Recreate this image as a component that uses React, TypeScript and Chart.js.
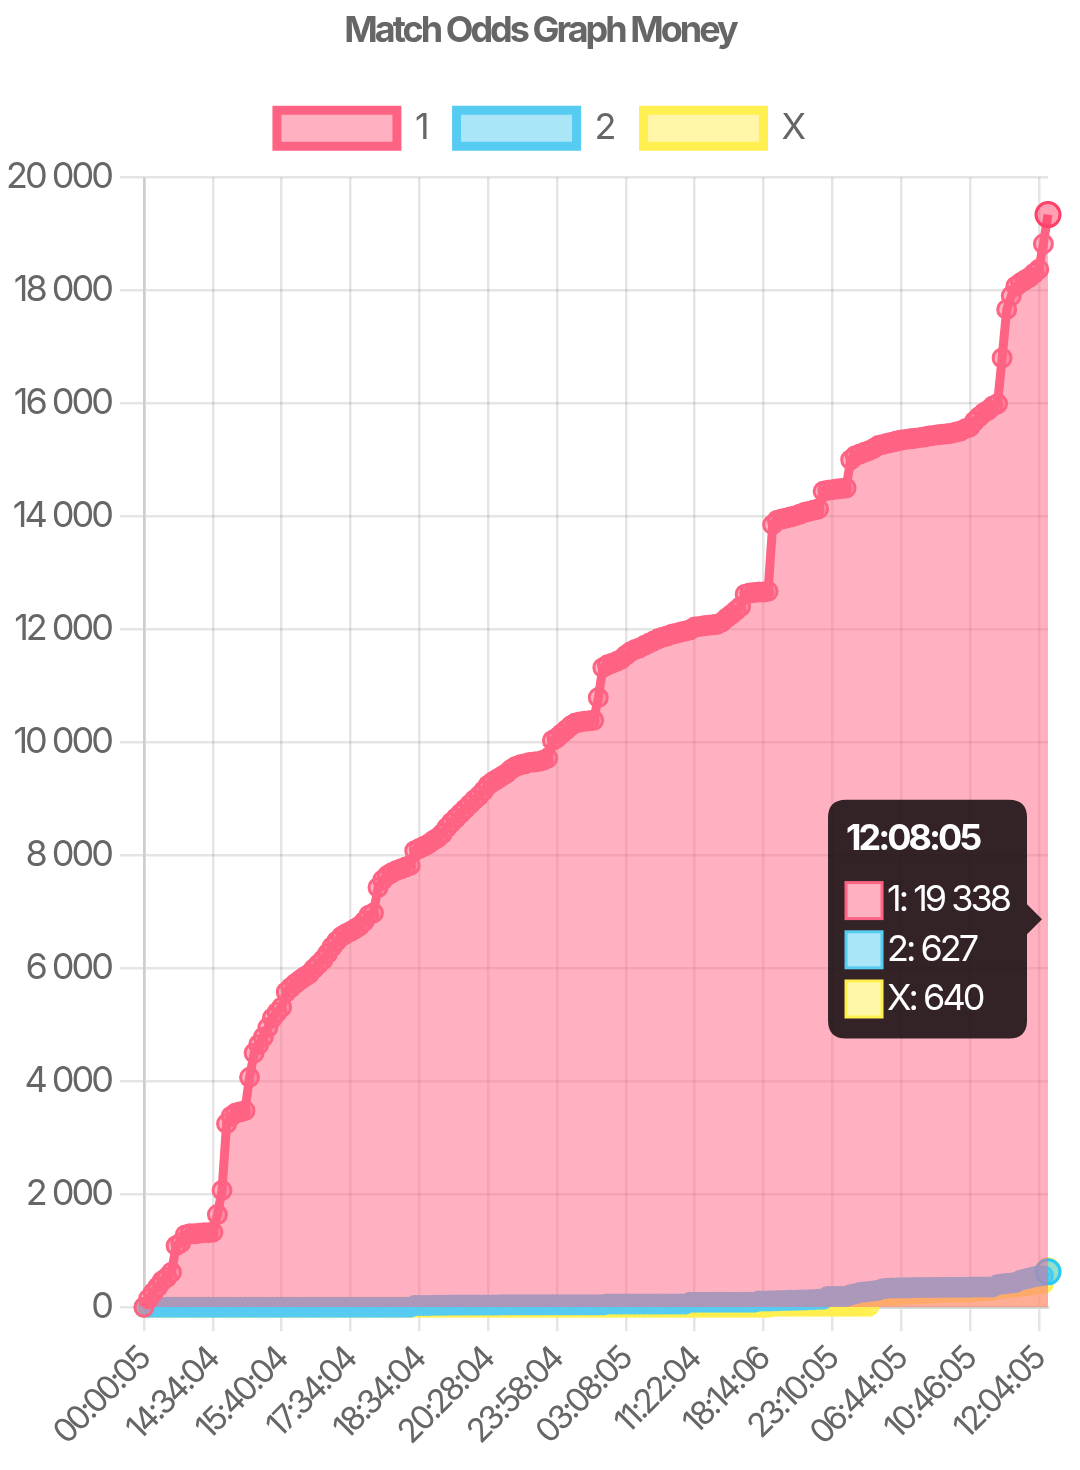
import { useEffect, useRef } from "react";
import { Chart, registerables } from "chart.js";

Chart.register(...registerables);

const TITLE = "Match Odds Graph Money";

// one label per recorded change, only every 15th one is printed on the axis
const timeLabels = [
  "00:00:05", "08:12:04", "09:30:04", "10:14:04", "10:52:04", "11:20:04", "11:46:04", "12:10:04", "12:32:04", "12:56:04", "13:18:04", "13:36:04", "13:52:04", "14:08:04", "14:22:04",
  "14:34:04", "14:38:04", "14:42:04", "14:46:04", "14:50:04", "14:56:04", "15:00:04", "15:04:04", "15:10:04", "15:14:04", "15:18:04", "15:24:04", "15:28:04", "15:32:04", "15:36:04",
  "15:40:04", "15:48:04", "15:56:04", "16:04:04", "16:12:04", "16:20:04", "16:28:04", "16:36:04", "16:44:04", "16:52:04", "17:00:04", "17:08:04", "17:16:04", "17:22:04", "17:28:04",
  "17:34:04", "17:38:04", "17:42:04", "17:46:04", "17:50:04", "17:54:04", "17:58:04", "18:02:04", "18:06:04", "18:10:04", "18:14:04", "18:18:04", "18:22:04", "18:26:04", "18:30:04",
  "18:34:04", "18:42:04", "18:50:04", "18:58:04", "19:06:04", "19:14:04", "19:22:04", "19:30:04", "19:38:04", "19:46:04", "19:54:04", "20:02:04", "20:10:04", "20:16:04", "20:22:04",
  "20:28:04", "20:42:04", "20:56:04", "21:10:04", "21:26:04", "21:40:04", "21:54:04", "22:08:04", "22:22:04", "22:36:04", "22:50:04", "23:04:04", "23:18:04", "23:32:04", "23:46:04",
  "23:58:04", "00:12:04", "00:26:04", "00:40:04", "00:54:04", "01:06:04", "01:18:04", "01:30:04", "01:42:04", "01:54:04", "02:06:04", "02:18:04", "02:32:04", "02:44:05", "02:56:05",
  "03:08:05", "03:44:05", "04:20:05", "04:56:05", "05:30:05", "06:04:05", "06:38:05", "07:12:05", "07:46:05", "08:20:04", "08:54:04", "09:28:04", "10:02:04", "10:36:04", "11:00:04",
  "11:22:04", "11:52:04", "12:20:04", "12:50:04", "13:18:04", "13:48:04", "14:16:04", "14:46:04", "15:14:04", "15:44:04", "16:12:04", "16:40:06", "17:08:06", "17:34:06", "17:54:06",
  "18:14:06", "18:34:06", "18:56:06", "19:18:06", "19:38:06", "20:00:06", "20:20:06", "20:42:06", "21:02:06", "21:22:05", "21:42:05", "22:02:05", "22:22:05", "22:40:05", "22:56:05",
  "23:10:05", "23:42:05", "00:14:05", "00:46:05", "01:18:05", "01:50:05", "02:22:05", "02:54:05", "03:26:05", "03:58:05", "04:30:05", "05:02:05", "05:34:05", "06:04:05", "06:24:05",
  "06:44:05", "07:02:05", "07:20:05", "07:38:05", "07:56:05", "08:14:05", "08:30:05", "08:46:05", "09:02:05", "09:18:05", "09:34:05", "09:50:05", "10:06:05", "10:20:05", "10:34:05",
  "10:46:05", "10:52:05", "10:58:05", "11:04:05", "11:10:05", "11:16:05", "11:22:05", "11:28:05", "11:34:05", "11:38:05", "11:44:05", "11:48:05", "11:52:05", "11:56:05", "12:00:05",
  "12:04:05", "12:06:05", "12:08:05",
];

const moneyOne = [
  0, 150, 260, 360, 470, 530, 620, 1090, 1140, 1280, 1300, 1300, 1310, 1320, 1320,
  1330, 1640, 2070, 3250, 3380, 3440, 3460, 3480, 4070, 4500, 4650, 4780, 4950, 5120, 5220,
  5310, 5580, 5660, 5730, 5790, 5850, 5900, 5990, 6070, 6150, 6260, 6380, 6480, 6560, 6610,
  6650, 6700, 6750, 6830, 6940, 6980, 7430, 7560, 7640, 7690, 7730, 7760, 7790, 7820, 8080,
  8120, 8160, 8200, 8260, 8310, 8380, 8490, 8580, 8660, 8740, 8820, 8900, 8980, 9050, 9140,
  9240, 9300, 9350, 9400, 9450, 9520, 9570, 9600, 9620, 9640, 9650, 9660, 9680, 9720, 10030,
  10080, 10150, 10220, 10290, 10340, 10360, 10370, 10380, 10390, 10790, 11320, 11370, 11400, 11430, 11470,
  11540, 11600, 11640, 11670, 11710, 11750, 11790, 11830, 11860, 11880, 11910, 11930, 11950, 11970, 11990,
  12040, 12050, 12060, 12070, 12080, 12090, 12130, 12200, 12260, 12330, 12400, 12620, 12640, 12650, 12660,
  12660, 12670, 13850, 13930, 13950, 13970, 13990, 14010, 14040, 14070, 14090, 14110, 14130, 14440, 14460,
  14470, 14480, 14490, 14500, 15000, 15070, 15100, 15130, 15160, 15200, 15250, 15270, 15290, 15310, 15330,
  15350, 15360, 15370, 15380, 15390, 15400, 15420, 15430, 15440, 15450, 15460, 15470, 15490, 15510, 15550,
  15580, 15680, 15760, 15830, 15880, 15950, 15990, 16800, 17660, 17900, 18070, 18130, 18180, 18230, 18300,
  18370, 18820, 19338,
];

const moneyTwo = [
  0, 0, 0, 0, 0, 0, 0, 0, 0, 0, 0, 0, 0, 0, 0,
  0, 0, 0, 0, 0, 0, 0, 0, 0, 0, 0, 0, 0, 0, 0,
  0, 0, 0, 0, 0, 0, 0, 0, 0, 0, 0, 0, 0, 0, 0,
  0, 0, 0, 0, 0, 0, 0, 0, 0, 0, 0, 0, 0, 0, 30,
  30, 30, 30, 35, 35, 35, 35, 40, 40, 40, 40, 40, 40, 40, 40,
  40, 40, 40, 45, 45, 45, 45, 45, 45, 45, 45, 45, 45, 45, 45,
  45, 45, 45, 45, 45, 45, 45, 45, 45, 45, 45, 60, 60, 60, 60,
  60, 60, 60, 60, 60, 60, 60, 60, 60, 60, 60, 60, 60, 60, 90,
  90, 90, 90, 90, 90, 90, 90, 90, 90, 90, 90, 90, 90, 90, 110,
  110, 110, 115, 115, 120, 120, 125, 125, 130, 130, 135, 135, 140, 140, 190,
  190, 190, 190, 190, 220, 240, 260, 270, 280, 290, 300, 330, 335, 340, 340,
  345, 345, 345, 350, 350, 350, 350, 350, 350, 355, 355, 355, 355, 355, 355,
  355, 360, 360, 360, 360, 360, 400, 410, 420, 430, 440, 480, 500, 520, 540,
  550, 560, 627,
];

const moneyX = [
  0, 0, 0, 0, 0, 0, 0, 0, 0, 0, 0, 0, 0, 0, 0,
  0, 0, 0, 0, 0, 0, 0, 0, 0, 0, 0, 0, 0, 0, 0,
  0, 0, 0, 0, 0, 0, 0, 0, 0, 0, 0, 0, 0, 0, 0,
  0, 0, 0, 0, 0, 0, 0, 0, 0, 0, 0, 0, 0, 0, 0,
  0, 0, 0, 0, 0, 0, 0, 0, 0, 0, 0, 0, 0, 0, 0,
  0, 0, 0, 0, 0, 0, 0, 0, 0, 0, 0, 0, 0, 0, 0,
  0, 0, 0, 0, 0, 0, 0, 0, 0, 0, 0, 0, 0, 0, 0,
  0, 0, 0, 0, 0, 0, 0, 0, 0, 0, 0, 0, 0, 0, 0,
  0, 0, 0, 0, 0, 0, 0, 0, 0, 0, 0, 0, 0, 0, 0,
  0, 0, 20, 20, 20, 20, 20, 20, 20, 20, 20, 20, 20, 20, 20,
  20, 20, 20, 20, 20, 20, 20, 20, 20, 190, 200, 205, 210, 215, 220,
  225, 230, 235, 240, 245, 250, 250, 255, 255, 260, 260, 265, 265, 270, 270,
  275, 280, 285, 290, 295, 300, 320, 330, 340, 350, 360, 370, 380, 390, 400,
  410, 420, 640,
];

const LABEL_EVERY = 15;
const GRID = "rgba(0, 0, 0, 0.1)";
const SPACING = "-3px";

// "20 000" style, but with a plain space: Inter has no narrow nbsp and the
// fallback glyph ignores letterSpacing
const fmt = (v) => Number(v).toLocaleString("fr-FR").replace(/[\u202f\u00a0]/g, " ");

// the screenshot's font is set very tight
const tightenContext = (ctx) => {
  if (ctx.__tight) return;
  ctx.__tight = true;
  const fill = ctx.fillText;
  const measure = ctx.measureText;
  ctx.fillText = function (...args) {
    this.letterSpacing = SPACING;
    return fill.apply(this, args);
  };
  ctx.measureText = function (...args) {
    this.letterSpacing = SPACING;
    return measure.apply(this, args);
  };
};

// a bit more room between the legend and the plot
const legendGap = {
  id: "legendGap",
  beforeInit(chart) {
    const legend = chart.legend;
    if (!legend) return;
    const fit = legend.fit;
    legend.fit = function () {
      fit.call(this);
      this.height += 21;
    };
  },
};

const MatchOddsChart = () => {
  const canvasRef = useRef(null);
  const chartRef = useRef(null);

  useEffect(() => {
    if (chartRef.current) chartRef.current.destroy();
    if (!canvasRef.current) return;

    Chart.defaults.font.family = "Inter, 'Noto Sans', sans-serif";
    Chart.defaults.font.size = 36;
    Chart.defaults.color = "#666";

    const ctx = canvasRef.current.getContext("2d");
    tightenContext(ctx);

    const chart = new Chart(ctx, {
      type: "line",
      data: {
        labels: timeLabels,
        datasets: [
          {
            label: "1",
            data: moneyOne,
            borderColor: "rgb(255, 99, 132)",
            backgroundColor: "rgba(255, 99, 132, 0.5)",
            fill: "origin",
            clip: false,
          },
          {
            label: "2",
            data: moneyTwo,
            borderColor: "rgb(86, 204, 242)",
            backgroundColor: "rgba(86, 204, 242, 0.5)",
            fill: false,
            clip: false,
          },
          {
            label: "X",
            data: moneyX,
            borderColor: "rgb(255, 240, 80)",
            backgroundColor: "rgba(255, 240, 80, 0.5)",
            fill: "origin",
            clip: false,
          },
        ],
      },
      options: {
        animation: false,
        responsive: true,
        maintainAspectRatio: false,
        interaction: { mode: "index", intersect: false },
        elements: {
          line: { borderWidth: 9, tension: 0 },
          point: { radius: 9, borderWidth: 3, hoverRadius: 12, hoverBorderWidth: 3 },
        },
        plugins: {
          title: {
            display: true,
            text: TITLE,
            font: { size: 36, weight: "bold" },
            padding: { top: 2, bottom: 27 },
          },
          legend: {
            labels: { boxWidth: 120, padding: 30 },
          },
          tooltip: {
            backgroundColor: "rgba(0, 0, 0, 0.8)",
            titleFont: { size: 36, weight: "bold" },
            bodyFont: { size: 36 },
            padding: 18,
            caretSize: 15,
            caretPadding: 6,
            cornerRadius: 18,
            bodySpacing: 6,
            titleMarginBottom: 18,
            boxPadding: 3,
            callbacks: {
              label: (item) => `${item.dataset.label}: ${fmt(item.parsed.y)}`,
            },
          },
        },
        scales: {
          x: {
            grid: {
              color: (c) => (c.index % LABEL_EVERY === 0 ? GRID : "transparent"),
              lineWidth: 2.5,
              tickLength: 24,
            },
            border: { color: GRID, width: 3 },
            ticks: {
              autoSkip: false,
              minRotation: 45,
              maxRotation: 45,
              padding: 9,
              font: { size: 33 },
              callback: (value, index) => (index % LABEL_EVERY === 0 ? timeLabels[index] : ""),
            },
            afterFit: (scale) => {
              scale.paddingRight = 24;
            },
          },
          y: {
            min: 0,
            max: 20000,
            grid: { color: GRID, lineWidth: 2.5, tickLength: 24 },
            border: { color: GRID, width: 3 },
            ticks: { stepSize: 2000, padding: 9, callback: (v) => fmt(v) },
            afterFit: (scale) => {
              scale.width = 136;
            },
          },
        },
      },
      plugins: [legendGap],
    });
    chartRef.current = chart;

    // tooltip pinned on the last reading, as in the screenshot
    const last = timeLabels.length - 1;
    const active = [0, 1, 2].map((d) => ({ datasetIndex: d, index: last }));
    chart.setActiveElements(active);
    chart.tooltip.setActiveElements(active, { x: 0, y: 0 });
    chart.update();

    return () => {
      if (chartRef.current) {
        chartRef.current.destroy();
        chartRef.current = null;
      }
    };
  }, []);

  return (
    <div style={{ position: "relative", width: 1064, height: 1454 }}>
      <canvas ref={canvasRef} />
    </div>
  );
};

export default function App() {
  return <MatchOddsChart />;
}
